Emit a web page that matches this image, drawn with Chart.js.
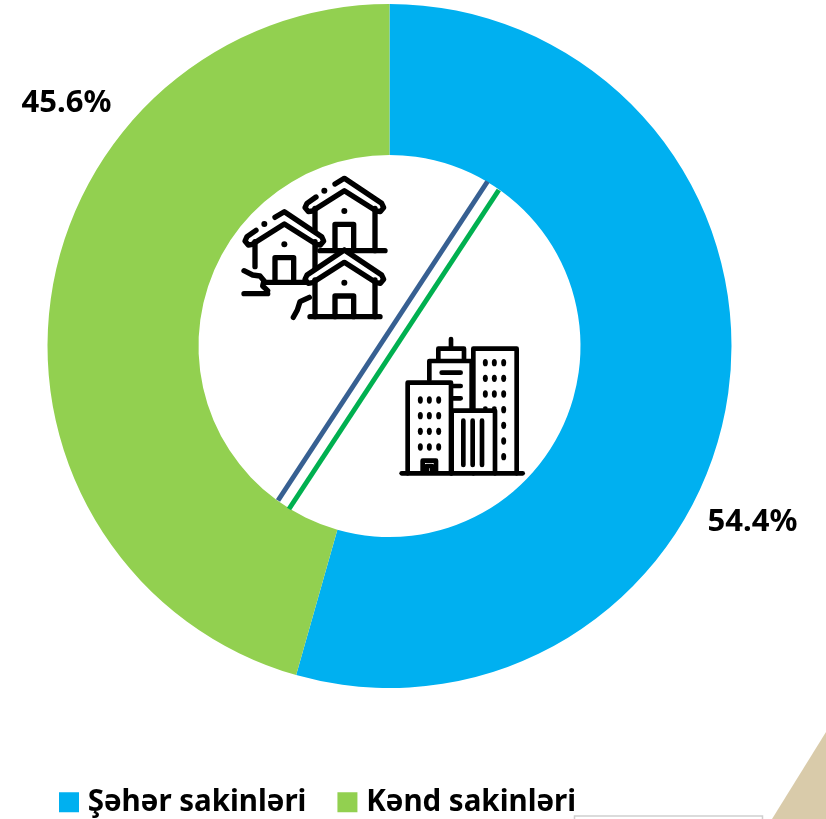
<!DOCTYPE html>
<html><head><meta charset="utf-8">
<style>html,body{margin:0;padding:0;background:#fff;overflow:hidden}canvas{display:block}</style>
<script src="https://cdn.jsdelivr.net/npm/chart.js@4"></script></head>
<body><canvas id="c" width="826" height="819"></canvas>
<script>
const categories = ["Şəhər sakinləri", "Kənd sakinləri"];
const shares = [54.4, 45.6];
const sliceColors = ["#00B0F0", "#92D050"];
const labelOffsets = [[99, 139], [-59, -206]];
const FONT = "'Noto Sans'";

function stroke(ctx, pts, close) {
  ctx.beginPath();
  pts.forEach((p, i) => i ? ctx.lineTo(p[0], p[1]) : ctx.moveTo(p[0], p[1]));
  if (close) ctx.closePath();
  ctx.stroke();
}
function dot(ctx, x, y, rx, ry) {
  ctx.beginPath(); ctx.ellipse(x, y, rx, ry || rx, 0, 0, 7); ctx.fill();
}
function house(ctx, ax, ay, base, gap, baseFrom, baseTo, leftWallEnd) {
  const P = (dx, dy) => [ax + dx, ay + dy];
  ctx.fillStyle = "#fff";
  ctx.beginPath();
  [P(0,0),P(118,80),P(92,100),P(92,base),P(-88,base),P(-88,100),P(-118,80)].forEach((p,i)=> i?ctx.lineTo(p[0],p[1]):ctx.moveTo(p[0],p[1]));
  ctx.closePath(); ctx.fill();
  ctx.fillStyle = "#000";
  stroke(ctx, [P(-88,90), P(-88,leftWallEnd)]);
  stroke(ctx, [P(92,90), P(92,base)]);
  stroke(ctx, [P(baseFrom,base), P(baseTo,base)]);
  stroke(ctx, [P(-28,base), P(-28,138), P(28,138), P(28,base)]);
  dot(ctx, ax, ay + 98, 9);
  // roof band
  stroke(ctx, [P(gap ? -28 : 0, gap ? 17 : 0), P(0,0), P(112,75), P(118,88), P(108,100), P(96,98), P(0,37), P(-96,98), P(-108,100), P(-118,88), P(-112,75), ...(gap ? [P(-85,56)] : [P(0,0)])]);
  if (gap) dot(ctx, ax - 60, ay + 37, 9);
}
const iconsPlugin = {
  id: "icons",
  afterDatasetsDraw(chart) {
    const ctx = chart.ctx;
    ctx.save();
    // divider
    ctx.lineCap = "butt";
    ctx.lineWidth = 5;
    ctx.strokeStyle = "#376092"; stroke(ctx, [[487.5,181.5],[278,500.5]]);
    ctx.strokeStyle = "#00B050"; stroke(ctx, [[498.8,190],[289,509]]);
    // page decoration
    ctx.fillStyle = "#D9CBAA";
    ctx.beginPath(); ctx.moveTo(826,732); ctx.lineTo(772,819); ctx.lineTo(826,819); ctx.closePath(); ctx.fill();
    ctx.strokeStyle = "#CFCFCF"; ctx.lineWidth = 1.5;
    stroke(ctx, [[574.5,819],[574.5,816],[762.5,816],[762.5,819]]);
    // icons
    ctx.translate(220,160); ctx.scale(1/3,1/3);
    ctx.strokeStyle = "#000"; ctx.fillStyle = "#000";
    ctx.lineWidth = 16; ctx.lineCap = "round"; ctx.lineJoin = "round";
    house(ctx, 373, 55, 217, true, -73, 122, 217);
    house(ctx, 193, 155, 212, true, -58, 67, 165);
    house(ctx, 373, 270, 200, false, -103, 107, 200);
    stroke(ctx, [[72,332],[98,345],[120,348],[132,362],[128,378],[143,392]]);
    stroke(ctx, [[72,401],[143,401]]);
    stroke(ctx, [[268,412],[240,425],[232,450],[220,472]]);
    // buildings
    ctx.lineWidth = 14;
    ctx.fillStyle = "#fff";
    stroke(ctx, [[693,537],[693,566]]);
    stroke(ctx, [[655,600],[655,566],[732,566],[732,600]]);
    stroke(ctx, [[628,660],[628,603],[755,603],[755,750]]);
    stroke(ctx, [[760,940],[760,566],[890,566],[890,940]]);
    ctx.fillRect(563,668,130,272);
    stroke(ctx, [[563,940],[563,668],[693,668],[693,940]]);
    ctx.fillRect(695,752,130,188);
    stroke(ctx, [[695,940],[695,752],[825,752],[825,940]]);
    stroke(ctx, [[545,940],[908,940]]);
    stroke(ctx, [[665,638],[722,638]]);
    stroke(ctx, [[700,678],[722,678]]);
    stroke(ctx, [[700,715],[722,715]]);
    [730,758,786].forEach(x => stroke(ctx, [[x,782],[x,915]]));
    stroke(ctx, [[608,935],[608,902],[648,902],[648,935]]);
    stroke(ctx, [[620,935],[620,918],[636,918],[636,935]]);
    ctx.fillStyle = "#000";
    [601,628,656].forEach(x => [720,767,814,861].forEach(y => dot(ctx,x,y,7.5,11)));
    [796,823,851].forEach(x => [608,655,702].forEach(y => dot(ctx,x,y,7.5,11)));
    [749,796,843,890].forEach(y => dot(ctx,851,y,7.5,11));
    dot(ctx,796,744,7,5); dot(ctx,823,744,7,5);
    ctx.restore();
    // percentage labels anchored to each arc
    ctx.save();
    ctx.font = "700 31px " + FONT;
    ctx.fillStyle = "#000"; ctx.textAlign = "center"; ctx.textBaseline = "middle";
    chart.getDatasetMeta(0).data.forEach((arc, i) => {
      const p = arc.tooltipPosition();
      ctx.fillText(shares[i].toFixed(1) + "%", p.x + labelOffsets[i][0], p.y + labelOffsets[i][1]);
    });
    ctx.restore();
  }
};
const legendPlacer = {
  id: "legendPlacer",
  afterLayout(chart) {
    const lg = chart.legend, pad = chart.options.plugins.legend.labels.padding;
    lg.left = 65 - pad; lg.right = 826;
    lg.top = 802 - pad - 14.5; lg.bottom = 819;
  }
};
new Chart(document.getElementById("c"), {
  type: "doughnut",
  data: { labels: categories, datasets: [{ data: shares, backgroundColor: sliceColors, borderWidth: 0 }] },
  plugins: [iconsPlugin, legendPlacer],
  options: {
    responsive: false, animation: false, cutout: 191, radius: 342,
    layout: { padding: { top: 4, left: 47.5, right: 94.5, bottom: 59 } },
    plugins: {
      tooltip: { enabled: false },
      legend: {
        position: "bottom", align: "start", maxHeight: 72,
        labels: {
          padding: 37, boxWidth: 8, boxHeight: 8, color: "#000",
          font: { family: FONT, size: 29.5, weight: "700" },
          generateLabels: c => categories.map((t, i) => ({
            text: t, fillStyle: sliceColors[i], strokeStyle: sliceColors[i], lineWidth: 12, index: i
          }))
        }
      }
    }
  }
});
</script></body></html>
